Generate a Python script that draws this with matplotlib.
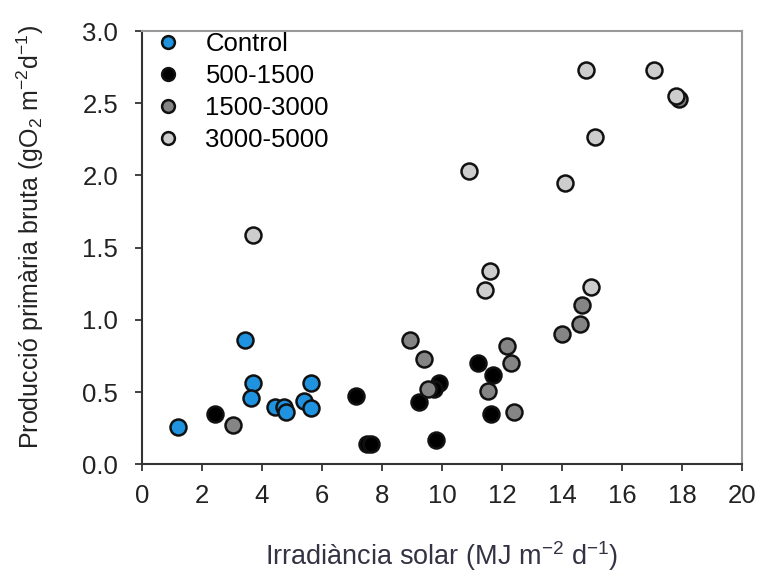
import matplotlib
matplotlib.use("Agg")
import matplotlib.pyplot as plt

plt.rcParams['font.family'] = ['Liberation Sans', 'DejaVu Sans']
plt.rcParams['mathtext.default'] = 'regular'

# Data
control_x = [1.2, 3.45, 3.7, 3.65, 4.45, 4.75, 4.8, 5.4, 5.65, 5.65]
control_y = [0.26, 0.86, 0.565, 0.46, 0.40, 0.40, 0.36, 0.44, 0.56, 0.39]

low_x = [2.45, 7.15, 7.5, 7.65, 9.25, 9.9, 9.75, 9.8, 11.2, 11.7, 11.65]
low_y = [0.35, 0.47, 0.14, 0.14, 0.43, 0.56, 0.52, 0.165, 0.70, 0.62, 0.35]

mid_x = [3.05, 8.95, 9.4, 9.55, 11.55, 12.15, 12.3, 12.4, 14.0, 14.6, 14.65, 17.9]
mid_y = [0.27, 0.86, 0.73, 0.52, 0.51, 0.82, 0.70, 0.36, 0.905, 0.97, 1.10, 2.53]

high_x = [3.7, 10.9, 11.45, 11.6, 14.1, 14.95, 14.8, 15.1, 17.05, 17.8]
high_y = [1.59, 2.03, 1.21, 1.34, 1.95, 1.23, 2.73, 2.27, 2.73, 2.55]

labels = ["Control", "500-1500", "1500-3000", "3000-5000"]
colors = ["#1f93e0", "#000000", "#858585", "#cdcdcd"]

fig = plt.figure(figsize=(7.62, 5.76), dpi=100)
ax = fig.add_axes([0.186, 0.194, 0.788, 0.752])

series = [(control_x, control_y), (low_x, low_y), (mid_x, mid_y), (high_x, high_y)]
for (xs, ys), lab, col in zip(series, labels, colors):
    ax.plot(xs, ys, linestyle="none", marker="o", markersize=11.5,
            markerfacecolor=col, markeredgecolor="#111111", markeredgewidth=1.8,
            label=lab)

ax.set_xlim(0, 20)
ax.set_ylim(0, 3.0)
ax.set_xticks(range(0, 21, 2))
ax.set_yticks([0.0, 0.5, 1.0, 1.5, 2.0, 2.5, 3.0])
ax.set_yticklabels(["0.0", "0.5", "1.0", "1.5", "2.0", "2.5", "3.0"])
ax.tick_params(labelsize=18.5, colors="#222222", length=5, width=1.2)
ax.tick_params(axis="y", pad=12)
ax.tick_params(axis="x", pad=9)

for side in ["left", "bottom"]:
    ax.spines[side].set_color("#333333")
    ax.spines[side].set_linewidth(1.5)
for side in ["top", "right"]:
    ax.spines[side].set_color("#999999")
    ax.spines[side].set_linewidth(1.5)

ax.set_xlabel("Irradiància solar (MJ m$^{-2}$ d$^{-1}$)", fontsize=19.5,
              color="#333344")
ax.xaxis.set_label_coords(0.5, -0.172)
ax.set_ylabel("Producció primària bruta (gO$_2$ m$^{-2}$d$^{-1}$)", fontsize=18,
              color="#222222")
ax.yaxis.set_label_coords(-0.16, 0.525)

leg = ax.legend(loc="upper left", bbox_to_anchor=(0.012, 1.0), frameon=False,
                fontsize=18.5, handletextpad=0.75, borderaxespad=0.0,
                labelspacing=0.3, handlelength=1.4, markerscale=0.8,
                borderpad=0.05)

fig.savefig("out.png", dpi=100)
